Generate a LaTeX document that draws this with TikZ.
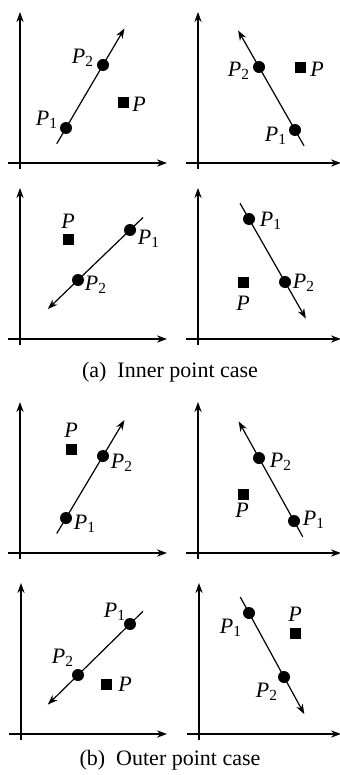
\documentclass[tikz,border=0pt]{standalone}
\usepackage{fontspec}
\setmainfont{Liberation Serif}
\usetikzlibrary{arrows.meta, calc, positioning}

\newcommand{\Pn}[1]{\textit{P}\textsubscript{#1}}

\begin{document}
\begin{tikzpicture}[
    x=0.5pt, y=-0.5pt,
    font=\fontsize{11}{13}\selectfont,
    axis/.style={line width=0.7pt, -{Stealth[length=5pt, width=3.6pt]}},
    ray/.style={line width=0.6pt, -{Stealth[length=5pt, width=3.6pt]}},
    dot/.style={circle, fill=black, inner sep=0pt, minimum size=6pt},
    target/.style={rectangle, fill=black, inner sep=0pt, minimum size=5.5pt},
    lbl/.style={inner sep=0pt}
]
\useasboundingbox (0,0) rectangle (339,775);

% axes of the eight panels
\foreach \ox/\oy/\xl [count=\i] in {20/163/147, 198/163/143, 20/339/147, 198/339/143,
                                   20/553/147, 198/553/143, 21/734/146, 199/734/142} {
    \coordinate (xs\i) at (\ox-12,\oy);
    \coordinate (xe\i) at (\ox+\xl,\oy);
    \coordinate (ys\i) at (\ox,\oy+6);
    \coordinate (ye\i) at (\ox,\oy-151);
    \draw[axis] (xs\i) -- (xe\i);
    \draw[axis] (ys\i) -- (ye\i);
}

% (a) inner point case
\node[dot] (a1) at (66,128) {};
\node[dot] (b1) at (103,65) {};
\node[target] (p1) at (123,103) {};
\node[lbl] (la1) at (47,120) {\Pn{1}};
\node[lbl] (lb1) at (83,58) {\Pn{2}};
\node[lbl] (lp1) at (139,104) {\textit{P}};

\node[dot] (a2) at (295,130) {};
\node[dot] (b2) at (259,67) {};
\node[target] (p2) at (300,68) {};
\node[lbl] (la2) at (276,136) {\Pn{1}};
\node[lbl] (lb2) at (239,71) {\Pn{2}};
\node[lbl] (lp2) at (317,69) {\textit{P}};

\node[dot] (a3) at (130,230) {};
\node[dot] (b3) at (78,280) {};
\node[target] (p3) at (68,239) {};
\node[lbl] (la3) at (149,239) {\Pn{1}};
\node[lbl] (lb3) at (96,285) {\Pn{2}};
\node[lbl] (lp3) at (68,221) {\textit{P}};

\node[dot] (a4) at (249,219) {};
\node[dot] (b4) at (285,282) {};
\node[target] (p4) at (243,282) {};
\node[lbl] (la4) at (271,221) {\Pn{1}};
\node[lbl] (lb4) at (304,283) {\Pn{2}};
\node[lbl] (lp4) at (243,303) {\textit{P}};

\node (capa) at (170,372) {(a)\ \ Inner point case};

% (b) outer point case
\node[dot] (a5) at (66,518) {};
\node[dot] (b5) at (103,456) {};
\node[target] (p5) at (71,449) {};
\node[lbl] (la5) at (85,524) {\Pn{1}};
\node[lbl] (lb5) at (122,463) {\Pn{2}};
\node[lbl] (lp5) at (71,430) {\textit{P}};

\node[dot] (a6) at (294,521) {};
\node[dot] (b6) at (259,458) {};
\node[target] (p6) at (243,494) {};
\node[lbl] (la6) at (314,520) {\Pn{1}};
\node[lbl] (lb6) at (281,462) {\Pn{2}};
\node[lbl] (lp6) at (242,510) {\textit{P}};

\node[dot] (a7) at (130,624) {};
\node[dot] (b7) at (78,675) {};
\node[target] (p7) at (106,684) {};
\node[lbl] (la7) at (115,612) {\Pn{1}};
\node[lbl] (lb7) at (63,658) {\Pn{2}};
\node[lbl] (lp7) at (125,684) {\textit{P}};

\node[dot] (a8) at (249,613) {};
\node[dot] (b8) at (284,677) {};
\node[target] (p8) at (295,633) {};
\node[lbl] (la8) at (231,628) {\Pn{1}};
\node[lbl] (lb8) at (267,692) {\Pn{2}};
\node[lbl] (lp8) at (295,614) {\textit{P}};

\node (capb) at (170,760) {(b)\ \ Outer point case};

% lines through P1 and P2
\foreach \i in {1,...,8}
    \draw[ray] ($(a\i)!-0.25!(b\i)$) -- ($(a\i)!1.58!(b\i)$);
\end{tikzpicture}
\end{document}
